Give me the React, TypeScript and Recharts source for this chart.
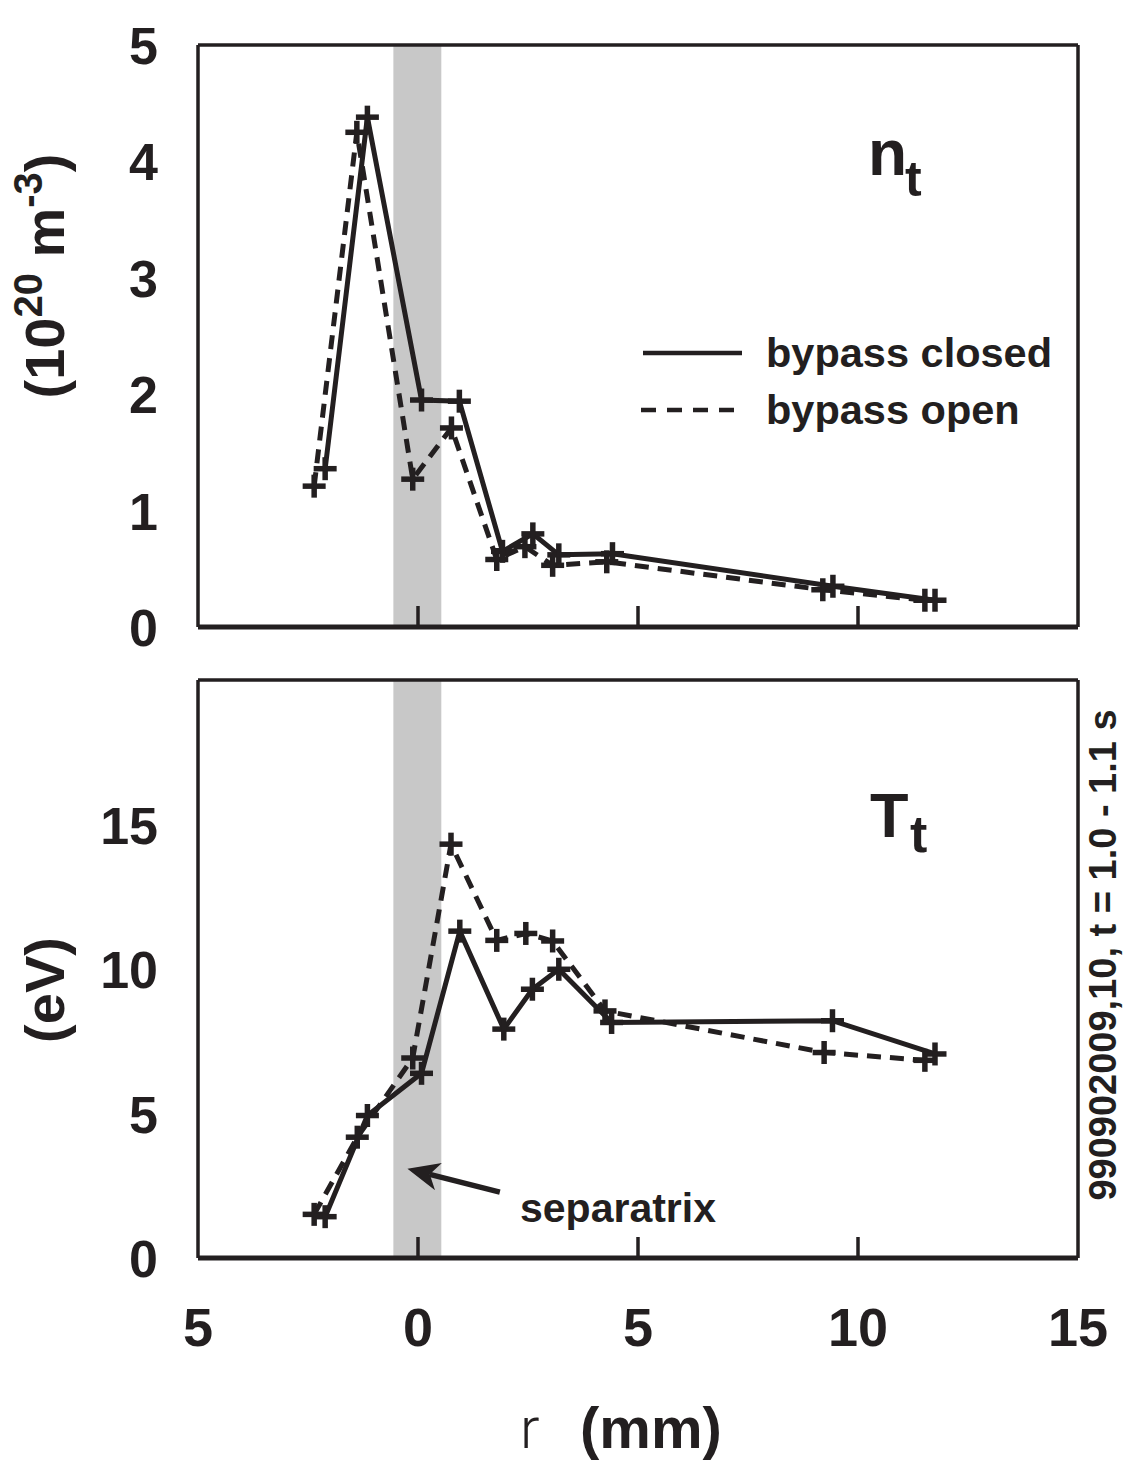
import React from 'react';
import { LineChart, Line, XAxis, YAxis, ReferenceArea, ReferenceLine } from 'recharts';

// ---------- data ----------
const rTicks = [-5, 0, 5, 10, 15];
const nTicks = [0, 1, 2, 3, 4, 5];
const tTicks = [0, 5, 10, 15];
const sepBand = [-0.56, 0.53];

const rClosedN = [-2.11, -1.15, 0.08, 0.94, 1.92, 2.61, 3.2, 4.42, 9.43, 11.75];
const nClosed = [1.36, 4.38, 1.95, 1.94, 0.65, 0.8, 0.62, 0.63, 0.35, 0.23];
const rOpenN = [-2.36, -1.39, -0.12, 0.76, 1.79, 2.43, 3.06, 4.29, 9.2, 11.52];
const nOpen = [1.21, 4.25, 1.27, 1.71, 0.58, 0.69, 0.53, 0.56, 0.32, 0.23];

const rClosedT = [-2.11, -1.15, 0.08, 0.95, 1.95, 2.6, 3.2, 4.4, 9.42, 11.75];
const tClosed = [1.43, 4.93, 6.39, 11.31, 7.92, 9.3, 9.99, 8.15, 8.21, 7.06];
const rOpenT = [-2.36, -1.38, -0.12, 0.75, 1.79, 2.45, 3.06, 4.25, 9.23, 11.52];
const tOpen = [1.51, 4.18, 6.92, 14.32, 10.99, 11.23, 10.97, 8.55, 7.11, 6.84];

const arrowTail = { r: 1.86, v: 2.28 };
const arrowTip = { r: -0.24, v: 3.09 };

const zip = (xs: number[], ys: number[]) => xs.map((r, i) => ({ r, v: ys[i] }));
const closedN = zip(rClosedN, nClosed);
const openN = zip(rOpenN, nOpen);
const closedT = zip(rClosedT, tClosed);
const openT = zip(rOpenT, tOpen);

// ---------- styles ----------
const FONT = '"Liberation Sans", Arial, Helvetica, sans-serif';
const INK = '#231f20';
const DASH = '14 9';

const Cross = (props: any) => {
  const { cx, cy } = props;
  if (cx == null || cy == null) return null;
  const a = 11.5;
  return (
    <g>
      <line x1={cx - a} y1={cy} x2={cx + a} y2={cy} stroke={INK} strokeWidth={5.5} />
      <line x1={cx} y1={cy - a} x2={cx} y2={cy + a} stroke={INK} strokeWidth={5.5} />
    </g>
  );
};
const dot = (p: any) => <Cross key={`d-${p.index}`} {...p} />;

const LeftTick = (p: any) => (
  <text x={p.x - 40} y={p.y + 19} textAnchor="end" fontSize={52} fontWeight="bold" fontFamily={FONT} fill={INK}>
    {p.payload.value}
  </text>
);
const RightTick = (p: any) => {
  if (p.index === 0 || p.payload.value === p.maxv) return <g />;
  return <line x1={p.x} y1={p.y} x2={p.x - 20} y2={p.y} stroke={INK} strokeWidth={3.5} />;
};
const BottomTick = (p: any) => {
  const v = p.payload.value;
  const inner = v !== -5 && v !== 15;
  return (
    <g>
      {inner && <line x1={p.x} y1={p.y} x2={p.x} y2={p.y - 21} stroke={INK} strokeWidth={3.5} />}
      {p.showLabel && (
        <text x={p.x} y={p.y + 88} textAnchor="middle" fontSize={54} fontWeight="bold" fontFamily={FONT} fill={INK}>
          {Math.abs(v)}
        </text>
      )}
    </g>
  );
};

const ArrowShape = (p: any) => {
  const { x1, y1, x2, y2 } = p;
  if ([x1, y1, x2, y2].some((v) => v == null || isNaN(v))) return <g />;
  const dx = x2 - x1, dy = y2 - y1;
  const len = Math.hypot(dx, dy) || 1;
  const ux = dx / len, uy = dy / len;
  const L = 32, W = 14;
  const bx = x2 - ux * L, by = y2 - uy * L;
  const nx = -uy, ny = ux;
  const mx = x2 - ux * L * 0.72, my = y2 - uy * L * 0.72;
  return (
    <g>
      <line x1={x1} y1={y1} x2={mx} y2={my} stroke={INK} strokeWidth={5.5} />
      <polygon points={`${x2},${y2} ${bx + nx * W},${by + ny * W} ${mx},${my} ${bx - nx * W},${by - ny * W}`} fill={INK} />
    </g>
  );
};

const axisLine = { stroke: INK, strokeWidth: 3.5 };

const Panel = ({ top, height, margin, yMax, yTicks, closed, open, showX, children }: any) => (
  <div style={{ position: 'absolute', left: 0, top }}>
    <LineChart width={1127} height={height} margin={margin}>
      <ReferenceArea xAxisId={0} yAxisId="left" x1={sepBand[0]} x2={sepBand[1]} y1={0} y2={yMax} fill="#c8c8c8" fillOpacity={1} stroke="none" />
      <XAxis
        xAxisId={0}
        type="number"
        dataKey="r"
        domain={[-5, 15]}
        ticks={rTicks}
        interval={0}
        allowDataOverflow
        height={30}
        tickSize={0}
        tickMargin={0}
        tickLine={false}
        axisLine={{ stroke: INK, strokeWidth: 5 }}
        tick={(p: any) => <BottomTick key={`x-${p.index}`} {...p} showLabel={showX} />}
      />
      <YAxis
        yAxisId="left"
        type="number"
        domain={[0, yMax]}
        ticks={yTicks}
        interval={0}
        width={60}
        tickSize={0}
        tickMargin={0}
        tickLine={false}
        axisLine={axisLine}
        tick={(p: any) => <LeftTick key={`y-${p.index}`} {...p} />}
      />
      <YAxis
        yAxisId="right"
        orientation="right"
        type="number"
        domain={[0, yMax]}
        ticks={yTicks}
        interval={0}
        width={30}
        tickSize={0}
        tickMargin={0}
        tickLine={false}
        axisLine={axisLine}
        tick={(p: any) => <RightTick key={`yr-${p.index}`} {...p} maxv={yMax} />}
      />
      <ReferenceLine xAxisId={0} yAxisId="left" y={yMax} stroke={INK} strokeWidth={3.5} />
      {children}
      <Line xAxisId={0} yAxisId="left" data={open} dataKey="v" type="linear" stroke={INK} strokeWidth={5} strokeDasharray={DASH} dot={dot} activeDot={false} isAnimationActive={false} />
      <Line xAxisId={0} yAxisId="left" data={closed} dataKey="v" type="linear" stroke={INK} strokeWidth={5} dot={dot} activeDot={false} isAnimationActive={false} />
    </LineChart>
  </div>
);

export default function App() {
  const t: any = { fontFamily: FONT, fontWeight: 'bold', fill: INK };
  return (
    <div style={{ position: 'absolute', left: 0, top: 0, width: 1127, height: 1464, background: '#fff' }}>
      <Panel top={0} height={660} margin={{ top: 45, left: 138, right: 19, bottom: 3 }} yMax={5} yTicks={nTicks} closed={closedN} open={openN} showX={false} />
      <Panel top={660} height={804} margin={{ top: 20, left: 138, right: 19, bottom: 176 }} yMax={20} yTicks={tTicks} closed={closedT} open={openT} showX={true}>
        <ReferenceLine
          xAxisId={0}
          yAxisId="left"
          segment={[{ x: arrowTail.r, y: arrowTail.v }, { x: arrowTip.r, y: arrowTip.v }]}
          ifOverflow="visible"
          shape={ArrowShape}
        />
      </Panel>
      <svg width={1127} height={1464} style={{ position: 'absolute', left: 0, top: 0, pointerEvents: 'none' }}>
        {/* y axis titles */}
        <text {...t} fontSize={56} textAnchor="middle" transform="translate(64,276) rotate(-90)">
          (10<tspan fontSize={40} dy={-22}>20</tspan>
          <tspan fontSize={56} dy={22}> m</tspan>
          <tspan fontSize={40} dy={-22}>-3</tspan>
          <tspan fontSize={56} dy={22}>)</tspan>
        </text>
        <text {...t} fontSize={56} textAnchor="middle" transform="translate(64,990) rotate(-90)">(eV)</text>
        {/* panel labels */}
        <text {...t} x={868} y={175} fontSize={64}>n</text>
        <text {...t} x={905} y={196} fontSize={50}>t</text>
        <text {...t} x={870} y={837} fontSize={63}>T</text>
        <text {...t} x={910} y={852} fontSize={52}>t</text>
        {/* legend */}
        <line x1={643} y1={353} x2={742} y2={353} stroke={INK} strokeWidth={4.5} />
        <text {...t} x={766} y={367} fontSize={41.5}>bypass closed</text>
        <line x1={641} y1={410} x2={742} y2={410} stroke={INK} strokeWidth={4.5} strokeDasharray="15 11" />
        <text {...t} x={766} y={424} fontSize={41.5}>bypass open</text>
        {/* right side note */}
        <text {...t} fontSize={38} textAnchor="middle" transform="translate(1116,955) rotate(-90)">990902009,10, t = 1.0 - 1.1 s</text>
        {/* annotation */}
        <text {...t} x={520} y={1222} fontSize={41}>separatrix</text>
        {/* x axis title */}
        <text x={520} y={1448} fontSize={58} fontFamily="Roboto, 'DejaVu Sans', sans-serif" fontWeight={300} fill={INK}>r</text>
        <text {...t} x={580} y={1448} fontSize={58}>(mm)</text>
      </svg>
    </div>
  );
}
